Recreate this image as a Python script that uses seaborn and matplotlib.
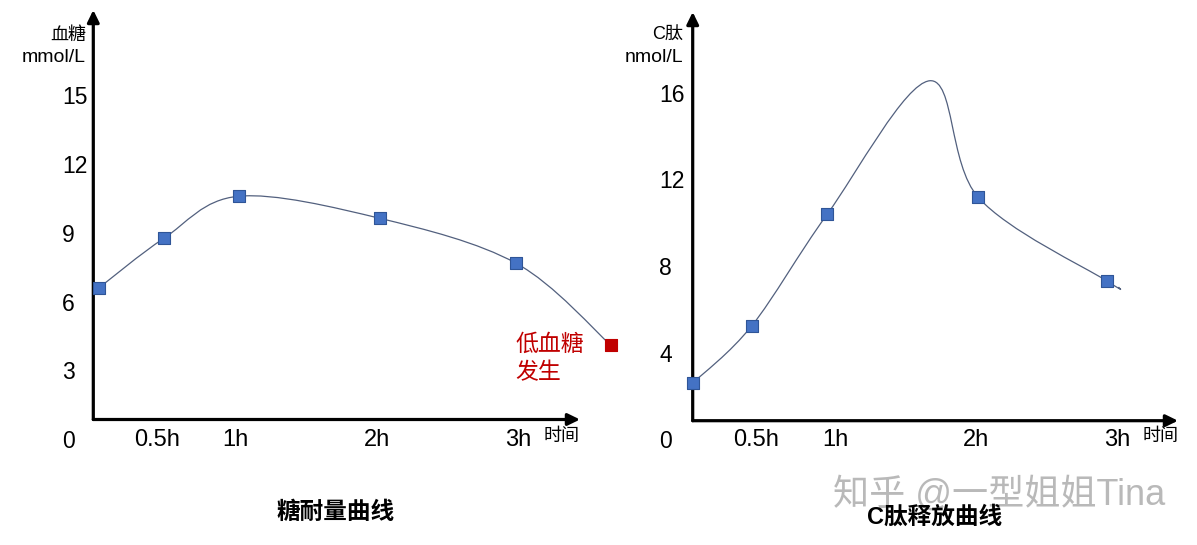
import numpy as np
import pandas as pd
import matplotlib
matplotlib.use("Agg")
import matplotlib.pyplot as plt
from matplotlib.path import Path
from matplotlib.patches import PathPatch
import seaborn as sns

# 糖耐量 (blood glucose)
glu_time = [0.04, 0.50, 1.03, 2.03, 3.00]
glu_value = [6.60, 8.76, 10.60, 9.64, 7.67]
glu_low_time = [3.67]
glu_low_value = [4.10]
glu_ticks = [3, 6, 9, 12, 15]

# C肽 (C-peptide); the peak and the tail end have no marker
cp_time = [0.00, 0.42, 0.955, 2.025, 2.94]
cp_value = [2.60, 5.25, 10.40, 11.17, 7.30]
cp_peak = (1.68, 16.55)
cp_tail = (3.02, 7.03)
cp_ticks = [4, 8, 12, 16]

xtick_pos = [0.45, 1.01, 2.01, 3.01]
xtick_labels = ["0.5h", "1h", "2h", "3h"]

W, H = 1197, 545
BLUE = "#4472C4"
BLUE_EDGE = "#2F5597"
LINE = "#52607e"
RED = "#C00000"

sns.set_theme(style="white")
plt.rcParams["font.family"] = ["Liberation Sans", "Noto Sans CJK SC", "DejaVu Sans"]
plt.rcParams["text.color"] = "black"

fig = plt.figure(figsize=(W / 100, H / 100), dpi=100)


def smooth_path(xs, ys):
    # smoothed line like office charts: catmull-rom turned into bezier pieces
    pts = np.column_stack([xs, ys])
    ext = np.vstack([pts[0], pts, pts[-1]])
    verts = [pts[0]]
    codes = [Path.MOVETO]
    for i in range(1, len(ext) - 2):
        p0, p1, p2, p3 = ext[i - 1], ext[i], ext[i + 1], ext[i + 2]
        verts += [p1 + (p2 - p0) / 6, p2 - (p3 - p1) / 6, p2]
        codes += [Path.CURVE4] * 3
    return Path(verts, codes)


def make_panel(x0, x1, y_axis, y_top, px_per_h, zero_px, px_per_unit, label_left):
    # axes box in pixels -> figure fraction, limits from the pixel scale
    ax = fig.add_axes([x0 / W, 1 - y_axis / H, (x1 - x0) / W, (y_axis - y_top) / H])
    ax.set_xlim(0, (x1 - x0) / px_per_h)
    ax.set_ylim((zero_px - y_axis) / px_per_unit, (zero_px - y_top) / px_per_unit)
    for s in ax.spines.values():
        s.set_visible(False)
    ax.set_facecolor("none")
    ax.grid(False)
    arrow = dict(arrowstyle="-|>,head_length=0.45,head_width=0.22", lw=2.3,
                 color="black", mutation_scale=16, shrinkA=0, shrinkB=0)
    ax.annotate("", xy=(1, 0), xytext=(0, 0), xycoords="axes fraction", arrowprops=arrow)
    ax.annotate("", xy=(0, 1), xytext=(0, 0), xycoords="axes fraction", arrowprops=arrow)
    ypad = (x0 - label_left) * 0.72
    ax.tick_params(axis="y", length=0, pad=ypad, labelsize=16.5, labelcolor="black")
    ax.tick_params(axis="x", length=0, pad=(440 - y_axis) * 0.72, labelsize=17,
                   labelcolor="black")
    ax.annotate("0", xy=(0, 0), xycoords=("axes fraction", "data"),
                xytext=(-ypad, 0), textcoords="offset points", color="black",
                ha="left", va="center_baseline", fontsize=16.5, annotation_clip=False)
    ax.annotate("时间", xy=(3.32, 0), xycoords=("data", "axes fraction"),
                xytext=(0, -(437 - y_axis) * 0.72), textcoords="offset points",
                color="black", ha="center", va="center", fontsize=13,
                annotation_clip=False)
    return ax


def finish_ticks(ax, yticks):
    ax.set_yticks(yticks)
    ax.set_yticklabels([str(v) for v in yticks])
    for lab in ax.get_yticklabels():
        lab.set_horizontalalignment("left")
    ax.set_xticks(xtick_pos)
    ax.set_xticklabels(xtick_labels)
    for lab in ax.get_xticklabels():
        lab.set_verticalalignment("center")
    ax.set_xlabel("")
    ax.set_ylabel("")


def markers(ax, xs, ys, color, edge):
    df = pd.DataFrame({"t": xs, "v": ys})
    sns.scatterplot(data=df, x="t", y="v", ax=ax, marker="s", s=75, color=color,
                    edgecolor=edge, linewidth=0.8, clip_on=False, zorder=4, legend=False)


# left: 糖耐量曲线
ax1 = make_panel(93.3, 580, 419.5, 10, 141, 439, 22.9, 62)
gx = glu_time + glu_low_time
gy = glu_value + glu_low_value
ax1.add_patch(PathPatch(smooth_path(gx, gy), fill=False, edgecolor=LINE, lw=0.9,
                        clip_on=False, zorder=3))
markers(ax1, glu_time, glu_value, BLUE, BLUE_EDGE)
markers(ax1, glu_low_time, glu_low_value, RED, RED)
finish_ticks(ax1, glu_ticks)

# right: C肽释放曲线
ax2 = make_panel(692.7, 1178, 420.7, 12, 141, 439.4, 21.67, 659)
cx = cp_time[:3] + [cp_peak[0]] + cp_time[3:] + [cp_tail[0]]
cy = cp_value[:3] + [cp_peak[1]] + cp_value[3:] + [cp_tail[1]]
ax2.add_patch(PathPatch(smooth_path(cx, cy), fill=False, edgecolor=LINE, lw=0.9,
                        clip_on=False, zorder=3))
markers(ax2, cp_time, cp_value, BLUE, BLUE_EDGE)
finish_ticks(ax2, cp_ticks)


def ftext(x, y, s, **kw):
    fig.text(x / W, 1 - y / H, s, **kw)


ftext(86, 35, "血糖", ha="right", va="center", fontsize=13)
ftext(86, 57, "mmol/L", ha="right", va="center", fontsize=14)
ftext(683, 35, "C肽", ha="right", va="center", fontsize=13)
ftext(683, 57, "nmol/L", ha="right", va="center", fontsize=14)

ftext(515, 344, "低血糖", ha="left", va="center", fontsize=16.5, color=RED)
ftext(515, 373, "发生", ha="left", va="center", fontsize=16.5, color=RED)

ftext(833, 495, "知乎 @一型姐姐Tina", ha="left", va="center", fontsize=26,
      color="#adadad", alpha=0.85, zorder=1)
ftext(336, 512, "糖耐量曲线", ha="center", va="center", fontsize=17, fontweight="bold")
ftext(935, 517, "C肽释放曲线", ha="center", va="center", fontsize=17, fontweight="bold",
      zorder=5)

fig.savefig("out.png", dpi=100, facecolor="white")
